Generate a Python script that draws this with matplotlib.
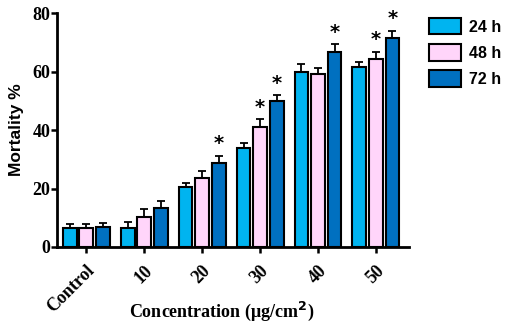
import matplotlib
matplotlib.use("Agg")
import matplotlib.pyplot as plt
import numpy as np

categories = ["Control", "10", "20", "30", "40", "50"]
series_names = ["24 h", "48 h", "72 h"]
vals_24 = [6.4, 6.4, 20.4, 33.7, 59.7, 61.4]
vals_48 = [6.4, 10.4, 23.5, 41.1, 59.3, 64.4]
vals_72 = [6.7, 13.4, 28.8, 49.9, 66.8, 71.6]
err_24 = [1.6, 2.0, 1.6, 2.0, 2.8, 1.8]
err_48 = [1.6, 2.5, 2.5, 2.6, 1.9, 2.4]
err_72 = [1.6, 2.3, 2.4, 2.1, 2.5, 2.4]
sig_48 = [False, False, False, True, False, True]
sig_72 = [False, False, True, True, True, True]
yticks = [0, 20, 40, 60, 80]

colors = ["#00B4F0", "#FFD5FA", "#0070C0"]

fig = plt.figure(figsize=(5.10, 3.28), dpi=100)
ax = fig.add_axes([0.112, 0.247, 0.690, 0.713])

x = np.arange(len(categories))
offs = [-0.285, 0.0, 0.285]
width = 0.24
all_vals = [vals_24, vals_48, vals_72]
all_errs = [err_24, err_48, err_72]
all_sig = [[False] * 6, sig_48, sig_72]
handles = []
for i in range(3):
    b = ax.bar(x + offs[i], all_vals[i], width, color=colors[i], edgecolor="black",
               linewidth=1.5, label=series_names[i], zorder=2)
    handles.append(b)
    ax.errorbar(x + offs[i], all_vals[i], yerr=[np.zeros(6), all_errs[i]], fmt="none",
                ecolor="black", elinewidth=1.3, capsize=3, capthick=1.3, zorder=1)
    for j in range(6):
        if all_sig[i][j]:
            ax.text(x[j] + offs[i], all_vals[i][j] + all_errs[i][j] + 0.8, "*",
                    ha="center", va="bottom", fontsize=14, fontweight="bold",
                    family="DejaVu Sans")

ax.set_xlim(-0.5, 5.57)
ax.set_ylim(0, 80)
ax.set_yticks(yticks)
ax.set_xticks(x)
ax.set_xticklabels(categories, rotation=45, ha="right", rotation_mode="anchor",
                   family="Liberation Serif", fontweight="bold", fontsize=13)
ax.set_yticklabels([str(t) for t in yticks], family="Liberation Serif",
                   fontweight="bold", fontsize=13)
for s in ["top", "right"]:
    ax.spines[s].set_visible(False)
for s in ["left", "bottom"]:
    ax.spines[s].set_linewidth(2)
ax.tick_params(axis="both", width=1.8, length=4)
ax.tick_params(axis="x", pad=7)
ax.tick_params(axis="y", pad=1)

ax.set_ylabel("Mortality %", family="Liberation Sans", fontweight="bold", fontsize=12.5, labelpad=6)
fig.text(0.435, 0.05, "Concentration (μg/cm$^\\mathbf{2}$)", ha="center", va="center",
         family="Liberation Serif", fontweight="bold", fontsize=13)

leg = fig.legend(handles=handles, labels=series_names, loc="upper left",
                 bbox_to_anchor=(0.841, 0.945), frameon=False, borderpad=0, borderaxespad=0,
                 prop={"family": "Liberation Sans", "weight": "bold", "size": 11.5},
                 handlelength=2.0, handleheight=1.2, labelspacing=0.6, handletextpad=0.5)

fig.savefig("out.png", dpi=100)
